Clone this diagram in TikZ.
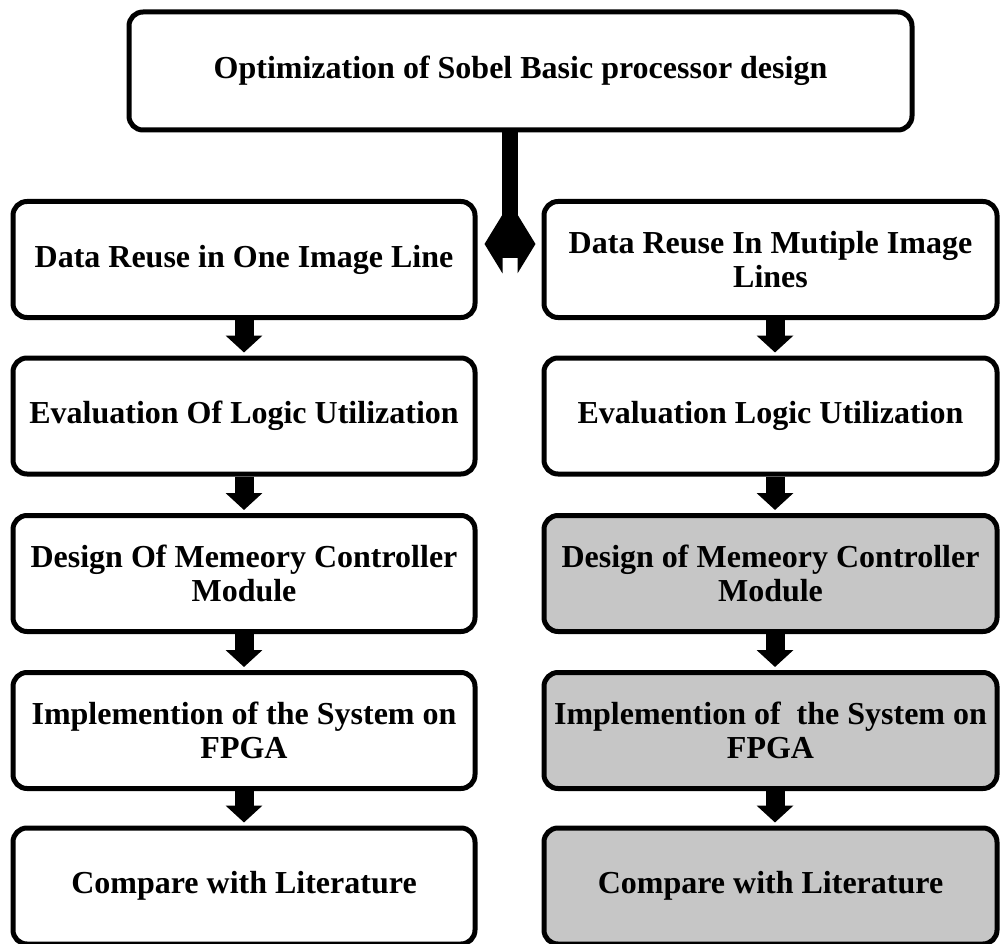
\documentclass[tikz,border=0pt]{standalone}
\usepackage{fontspec}
\setmainfont{Liberation Serif}
\usetikzlibrary{arrows.meta,calc}
\definecolor{boxgray}{RGB}{198,198,198}
\begin{document}
\begin{tikzpicture}[x=1pt,y=-1pt,
  box/.style={draw=black, line width=5pt, rounded corners=14pt, align=center,
    inner sep=0pt, font=\fontsize{32}{34}\selectfont\bfseries},
  leftbox/.style={box, minimum width=462pt, minimum height=116pt},
  rightbox/.style={box, minimum width=453pt, minimum height=116pt},
  shaded/.style={fill=boxgray},
  downarrow/.style={line width=19pt, shorten >=3pt,
    -{Triangle[width=36pt,length=17pt]}},
  bothways/.style={line width=27pt,
    {Triangle[width=58pt,length=18pt]}-{Triangle[width=58pt,length=18pt]}}
]
\useasboundingbox (0,0) rectangle (1001,944);

% title box
\node[box, minimum width=783pt, minimum height=118pt] (top) at (520.5,71)
  {Optimization of Sobel Basic processor design};

% left column
\node[leftbox] (l1) at (244,259.5) {Data Reuse in One Image Line};
\node[leftbox] (l2) at (244,416) {Evaluation Of Logic Utilization};
\node[leftbox] (l3) at (244,573.5) {Design Of Memeory Controller\\Module};
\node[leftbox] (l4) at (244,730.5) {Implemention of the System on\\FPGA};
\node[leftbox] (l5) at (244,886) {Compare with Literature};

% right column
\node[rightbox] (r1) at (770.5,259.5) {Data Reuse In Mutiple Image\\Lines};
\node[rightbox] (r2) at (770.5,416) {Evaluation Logic Utilization};
\node[rightbox, shaded] (r3) at (770.5,573.5) {Design of Memeory Controller\\Module};
\node[rightbox, shaded] (r4) at (770.5,730.5) {Implemention of\ \ the System on\\FPGA};
\node[rightbox, shaded] (r5) at (770.5,886) {Compare with Literature};

% split from the title into both columns
\coordinate (dl) at ([xshift=7pt,yshift=15.5pt]l1.east);
\coordinate (dr) at ([xshift=-6pt,yshift=15.5pt]r1.west);
\coordinate (hub) at ($(dl)!0.5!(dr)$);
\draw[line width=16pt] (top.south -| hub) -- ([yshift=-13pt]hub);
\draw[bothways] (dl) -- (dr);

% steps within each column
\foreach \a/\b in {l1/l2,l2/l3,l3/l4,l4/l5}
  \draw[downarrow] (\a.south) -- (\b.north);
\foreach \a/\b in {r1/r2,r2/r3,r3/r4,r4/r5}
  \draw[downarrow] ([xshift=4.5pt]\a.south) -- ([xshift=4.5pt]\b.north);
\end{tikzpicture}
\end{document}
